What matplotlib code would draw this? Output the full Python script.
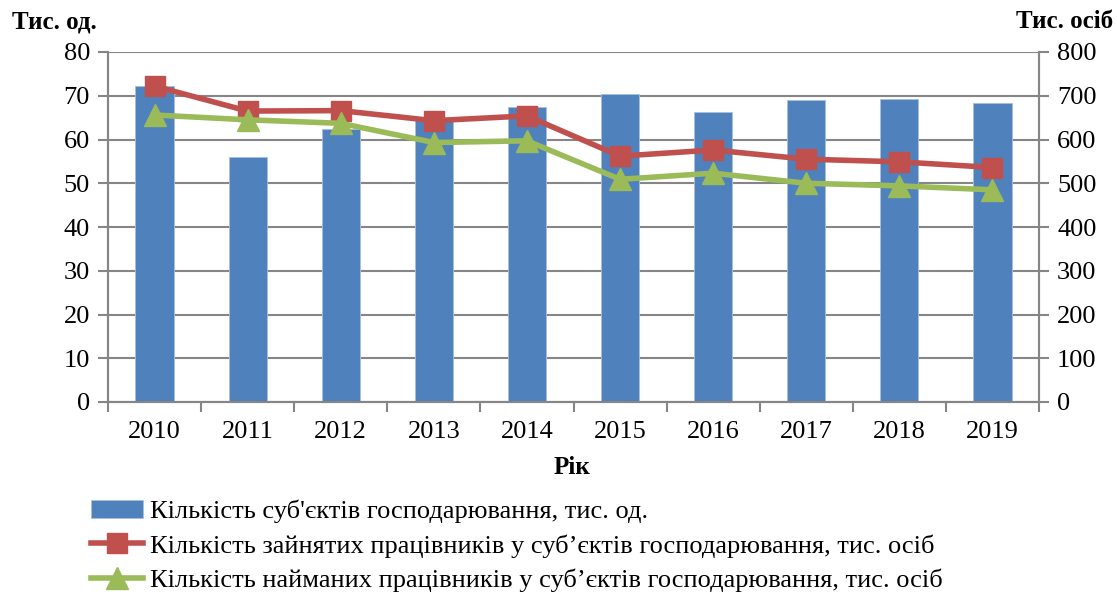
import numpy as np
import matplotlib.pyplot as plt

plt.rcParams['font.family'] = ['Liberation Serif', 'DejaVu Serif']

years = ['2010', '2011', '2012', '2013', '2014', '2015', '2016', '2017', '2018', '2019']
# кількість суб'єктів господарювання, тис. од.
subjects = [72.2, 55.9, 62.5, 64.4, 67.5, 70.4, 66.4, 69.0, 69.2, 68.3]
# зайняті працівники, тис. осіб
employed = [722, 665, 666, 643, 654, 562, 576, 555, 549, 536]
# наймані працівники, тис. осіб
hired = [656, 645, 637, 593, 597, 509, 523, 500, 494, 485]

lab_bar = "Кількість суб'єктів господарювання, тис. од."
lab_emp = "Кількість зайнятих працівників у суб’єктів господарювання, тис. осіб"
lab_hir = "Кількість найманих працівників у суб’єктів господарювання, тис. осіб"

blue = '#4f81bd'
red = '#c0504d'
green = '#9bbb59'
gray = '#868686'

fig = plt.figure(figsize=(11.17, 5.97), dpi=100)
ax = fig.add_axes([108/1117, 1 - 402/597, (1039-108)/1117, 350/597])
ax2 = ax.twinx()

x = np.arange(len(years))
b = ax.bar(x, subjects, width=0.41, color=blue, edgecolor='#a7c0de', linewidth=0.6, label=lab_bar, zorder=2)
l1, = ax2.plot(x, employed, color=red, lw=4, marker='s', ms=15, mec=red, label=lab_emp, zorder=3)
l2, = ax2.plot(x, hired, color=green, lw=4, marker='^', ms=16, mec=green, label=lab_hir, zorder=4)

ax.set_xlim(-0.5, len(years) - 0.5)
ax.set_ylim(0, 80)
ax.set_yticks(np.arange(0, 81, 10))
ax2.set_ylim(0, 800)
ax2.set_yticks(np.arange(0, 801, 100))
ax.grid(axis='y', color=gray, lw=1.5, zorder=0)
ax.set_axisbelow(True)

ax.set_xticks(x)
ax.set_xticklabels(years)
ax.set_xticks(np.arange(-0.5, len(years), 1), minor=True)
ax.tick_params(axis='x', which='major', length=0, pad=14, labelsize=19)
ax.tick_params(axis='x', which='minor', length=7, width=1.5, color=gray, direction='out')
ax.tick_params(axis='y', length=7, width=1.5, color=gray, labelsize=19, pad=6)
ax2.tick_params(axis='y', length=7, width=1.5, color=gray, labelsize=19, pad=6)

for a in (ax, ax2):
    for s in a.spines.values():
        s.set_color(gray)
        s.set_linewidth(1.5)
    a.spines['top'].set_visible(False)

fig.text(12/1117, 1 - 22/597, 'Тис. од.', fontsize=18, fontweight='bold', ha='left', va='center')
fig.text(1113/1117, 1 - 22/597, 'Тис. осіб', fontsize=18, fontweight='bold', ha='right', va='center')
fig.text(572/1117, 1 - 467/597, 'Рік', fontsize=18, fontweight='bold', ha='center', va='center')

fig.legend(handles=[b, l1, l2], loc='upper left', bbox_to_anchor=(80/1117, 1 - 489/597),
           frameon=False, fontsize=19, handlelength=2.0, handletextpad=0.25,
           labelspacing=0.42, borderaxespad=0)

fig.savefig('out.png', dpi=100)
